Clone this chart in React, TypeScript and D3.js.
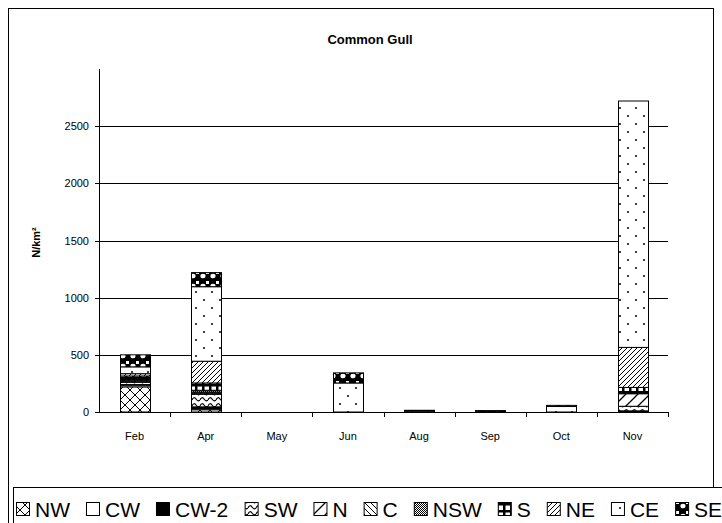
import React from 'react';
import * as d3 from 'd3';

const months = ['Feb', 'Apr', 'May', 'Jun', 'Aug', 'Sep', 'Oct', 'Nov'];
const seriesNames = ['NW', 'CW', 'CW-2', 'SW', 'N', 'C', 'NSW', 'S', 'NE', 'CE', 'SE'];
const NW = [220, 20, 0, 0, 0, 0, 0, 0];
const CW = [15, 10, 0, 0, 0, 0, 0, 5];
const CW2 = [5, 15, 0, 0, 0, 0, 0, 5];
const SW = [20, 110, 0, 0, 0, 0, 0, 40];
const N = [10, 10, 0, 0, 0, 0, 0, 110];
const C = [10, 10, 0, 0, 0, 0, 0, 0];
const NSW = [5, 15, 0, 0, 0, 0, 0, 5];
const S = [30, 64, 0, 0, 0, 0, 0, 50];
const NE = [20, 190, 0, 0, 0, 0, 0, 350];
const CE = [60, 652, 0, 254, 10, 7, 48, 2155];
const SE = [105, 123, 0, 88, 5, 5, 10, 0];
const yTicks = [0, 500, 1000, 1500, 2000, 2500];
const yMax = 3000;

const seriesValues = [NW, CW, CW2, SW, N, C, NSW, S, NE, CE, SE];
const fills = ['url(#pNW)', '#fff', '#000', 'url(#pSW)', 'url(#pN)', 'url(#pC)', 'url(#pNSW)', 'url(#pS)', 'url(#pNE)', 'url(#pCE)', 'url(#pSE)'];

const W = 722, H = 523;
const plot = { left: 99, right: 668, top: 69, bottom: 412 };
const FONT = 'Arial, "Liberation Sans", sans-serif';

export default function App() {
  const x = d3.scaleBand<string>().domain(months).range([plot.left, plot.right]).paddingInner(0.58).paddingOuter(0.29);
  const xb = d3.scaleBand<string>().domain(months).range([plot.left, plot.right]);
  const y = d3.scaleLinear().domain([0, yMax]).range([plot.bottom, plot.top]);

  const rows = months.map((m, i) => {
    const r: any = { month: m };
    seriesNames.forEach((s, k) => { r[s] = seriesValues[k][i]; });
    return r;
  });
  const stacked = d3.stack<any>().keys(seriesNames)(rows);

  // legend layout
  const legendFont = 21;
  const charW: Record<string, number> = { N: 0.722, W: 0.944, C: 0.722, '-': 0.333, '2': 0.556, S: 0.667, E: 0.667 };
  const textW = (t: string) => t.split('').reduce((a, ch) => a + (charW[ch] || 0.6), 0) * legendFont;
  let lx = 16;
  const legendItems = seriesNames.map((s, k) => {
    const item = { s, k, ix: lx, tx: lx + 19 };
    lx += 19 + textW(s) + 16;
    return item;
  });
  const legendY = 516;

  return (
    <svg width={W} height={H} style={{ position: 'absolute', left: 0, top: 0 }} fontFamily={FONT}>
      <defs>
        <pattern id="pNW" width="10" height="10" patternUnits="userSpaceOnUse">
          <rect width="10" height="10" fill="#fff" />
          <path d="M0,0 L10,10 M10,0 L0,10" stroke="#000" strokeWidth="1" />
        </pattern>
        <pattern id="pSW" width="8" height="6" patternUnits="userSpaceOnUse">
          <rect width="8" height="6" fill="#fff" />
          <path d="M0,4 Q2,0 4,3 T8,4" fill="none" stroke="#000" strokeWidth="1.2" />
        </pattern>
        <pattern id="pN" width="12" height="12" patternUnits="userSpaceOnUse">
          <rect width="12" height="12" fill="#fff" />
          <path d="M-3,15 L15,-3 M-3,3 L3,-3 M9,15 L15,9" stroke="#000" strokeWidth="1.3" />
        </pattern>
        <pattern id="pC" width="6" height="6" patternUnits="userSpaceOnUse">
          <rect width="6" height="6" fill="#fff" />
          <path d="M0,0 L6,6 M-3,3 L0,6 M3,-3 L6,0" stroke="#000" strokeWidth="1" />
        </pattern>
        <pattern id="pNSW" width="2" height="2" patternUnits="userSpaceOnUse">
          <rect width="2" height="2" fill="#fff" />
          <rect width="1" height="1" fill="#000" />
          <rect x="1" y="1" width="1" height="1" fill="#000" />
        </pattern>
        <pattern id="pS" width="7" height="7" patternUnits="userSpaceOnUse">
          <rect width="7" height="7" fill="#000" />
          <rect x="1.5" y="1.5" width="4.5" height="4.5" fill="#fff" />
        </pattern>
        <pattern id="pNE" width="5" height="5" patternUnits="userSpaceOnUse">
          <rect width="5" height="5" fill="#fff" />
          <path d="M-1,6 L6,-1 M-1,1 L1,-1 M4,6 L6,4" stroke="#000" strokeWidth="1" />
        </pattern>
        <pattern id="pCE" width="16" height="16" patternUnits="userSpaceOnUse">
          <rect width="16" height="16" fill="#fff" />
          <circle cx="4" cy="4" r="1" fill="#000" />
          <circle cx="12" cy="12" r="1" fill="#000" />
        </pattern>
        <pattern id="pSE" width="10" height="10" patternUnits="userSpaceOnUse">
          <rect width="10" height="10" fill="#000" />
          <ellipse cx="3" cy="6" rx="2.6" ry="2.3" fill="#fff" />
          <rect x="6" y="1" width="3" height="3" fill="#fff" />
        </pattern>
      </defs>

      <rect x={0} y={0} width={W} height={H} fill="#fff" />
      {/* outer chart frame */}
      <rect x={8.5} y={8.5} width={705} height={H + 20} fill="#fff" stroke="#000" strokeWidth={1} />

      <text x={370} y={44} textAnchor="middle" fontSize={13} fontWeight="bold">Common Gull</text>

      {/* gridlines */}
      {yTicks.map(t => (
        <line key={'g' + t} x1={plot.left} x2={plot.right} y1={Math.round(y(t)) + 0.5} y2={Math.round(y(t)) + 0.5} stroke="#000" strokeWidth={1} />
      ))}
      {/* y axis */}
      <line x1={plot.left + 0.5} x2={plot.left + 0.5} y1={plot.top} y2={plot.bottom + 0.5} stroke="#000" />
      {yTicks.map(t => (
        <g key={'yt' + t}>
          <line x1={plot.left - 4} x2={plot.left} y1={Math.round(y(t)) + 0.5} y2={Math.round(y(t)) + 0.5} stroke="#000" />
          <text x={plot.left - 10} y={y(t) + 4} textAnchor="end" fontSize={11}>{t}</text>
        </g>
      ))}
      <text transform={`translate(40,${(plot.top + plot.bottom) / 2 + 2}) rotate(-90)`} textAnchor="middle" fontSize={11} fontWeight="bold">N/km²</text>

      {/* bars */}
      {stacked.map((layer, k) => (
        <g key={layer.key}>
          {layer.map((d, i) => {
            const h = y(d[0]) - y(d[1]);
            if (h <= 0) return null;
            return (
              <rect key={i} x={Math.round(x(months[i])!) + 0.5} y={y(d[1])} width={Math.round(x.bandwidth())} height={h}
                fill={fills[k]} stroke="#000" strokeWidth={1} />
            );
          })}
        </g>
      ))}

      {/* x axis */}
      <line x1={plot.left} x2={plot.right} y1={plot.bottom + 0.5} y2={plot.bottom + 0.5} stroke="#000" />
      {months.map((m, i) => (
        <g key={'xt' + m}>
          <line x1={Math.round(xb(m)! + xb.bandwidth()) + 0.5} x2={Math.round(xb(m)! + xb.bandwidth()) + 0.5} y1={plot.bottom} y2={plot.bottom + 5} stroke="#000" />
          <text x={xb(m)! + xb.bandwidth() / 2} y={440} textAnchor="middle" fontSize={11}>{m}</text>
        </g>
      ))}

      {/* legend */}
      <rect x={13.5} y={487.5} width={W} height={60} fill="#fff" stroke="#000" />
      {legendItems.map(it => (
        <g key={'lg' + it.s}>
          <rect x={it.ix + 0.5} y={legendY - 13.5} width={13} height={13} fill={fills[it.k]} stroke="#000" />
          <text x={it.tx} y={legendY + 1} fontSize={legendFont}>{it.s}</text>
        </g>
      ))}
    </svg>
  );
}
